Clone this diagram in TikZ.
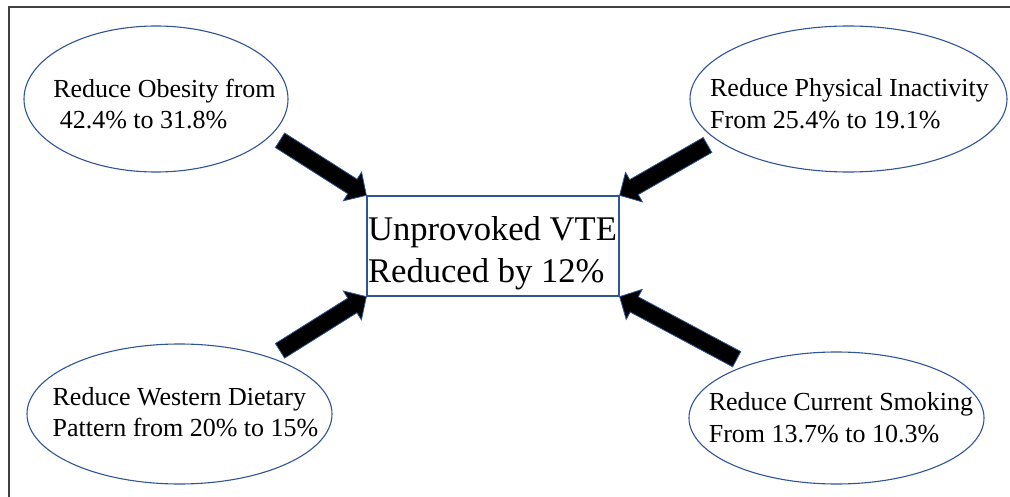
\documentclass[tikz,border=0pt]{standalone}
\usepackage{fontspec}
\setmainfont{Liberation Serif}
\usetikzlibrary{calc,shapes.geometric}
\definecolor{ovalblue}{HTML}{2F5597}

\begin{document}
\begin{tikzpicture}[x=1pt,y=-1pt,
  oval/.style={ellipse,draw=ovalblue,line width=1.1pt,inner sep=0pt},
  etxt/.style={align=left,inner sep=0pt,font=\fontsize{26}{31.5}\selectfont},
  goal/.style={rectangle,draw=ovalblue,line width=1.3pt,inner sep=0pt,minimum width=252pt,minimum height=100pt},
  btxt/.style={align=left,inner sep=0pt,font=\fontsize{34.6}{41.6}\selectfont},
  blockarrow/.style={fill=black,draw=ovalblue,line width=0.8pt,line join=miter}]
  \useasboundingbox (0,0) rectangle (1010,497);
  \draw[black!75,line width=1.6pt] (9,497) -- (9,7) -- (1010,7);

  % the four factors
  \node[oval,minimum width=264pt,minimum height=146pt] (obes) at (156,99) {};
  \node[oval,minimum width=317pt,minimum height=146pt] (inact) at (848.5,99) {};
  \node[oval,minimum width=305pt,minimum height=140pt] (diet) at (179.5,414) {};
  \node[oval,minimum width=295pt,minimum height=132pt] (smoke) at (836.5,418) {};
  \node[etxt] at (164.5,104) {Reduce Obesity from\\\hspace*{6.5pt}42.4\% to 31.8\%};
  \node[etxt] at (849.5,103.5) {Reduce Physical Inactivity\\From 25.4\% to 19.1\%};
  \node[etxt] at (185.5,412) {Reduce Western Dietary\\Pattern from 20\% to 15\%};
  \node[etxt] at (841,417.5) {Reduce Current Smoking\\From 13.7\% to 10.3\%};

  % outcome
  \node[goal] (vte) at (493,246) {};
  \node[btxt] at (492.5,253.5) {Unprovoked VTE\\Reduced by 12\%};

  % block arrows
  \coordinate (tObes) at (280,140.3);
  \coordinate (tInact) at (707.5,145);
  \coordinate (tDiet) at (280,350.8);
  \coordinate (tSmoke) at (736.7,359.2);
  \foreach \t/\h in {tObes/vte.north west,tInact/vte.north east,tDiet/vte.south west,tSmoke/vte.south east}
    \draw[blockarrow] ($(\t)!8.6pt!90:(\h)$) -- ($(\h)!16.5pt!(\t)!8.6pt!90:(\h)$)
      -- ($(\h)!16.5pt!(\t)!17pt!90:(\h)$) -- (\h)
      -- ($(\h)!16.5pt!(\t)!17pt!-90:(\h)$) -- ($(\h)!16.5pt!(\t)!8.6pt!-90:(\h)$)
      -- ($(\t)!8.6pt!-90:(\h)$) -- cycle;
\end{tikzpicture}
\end{document}
